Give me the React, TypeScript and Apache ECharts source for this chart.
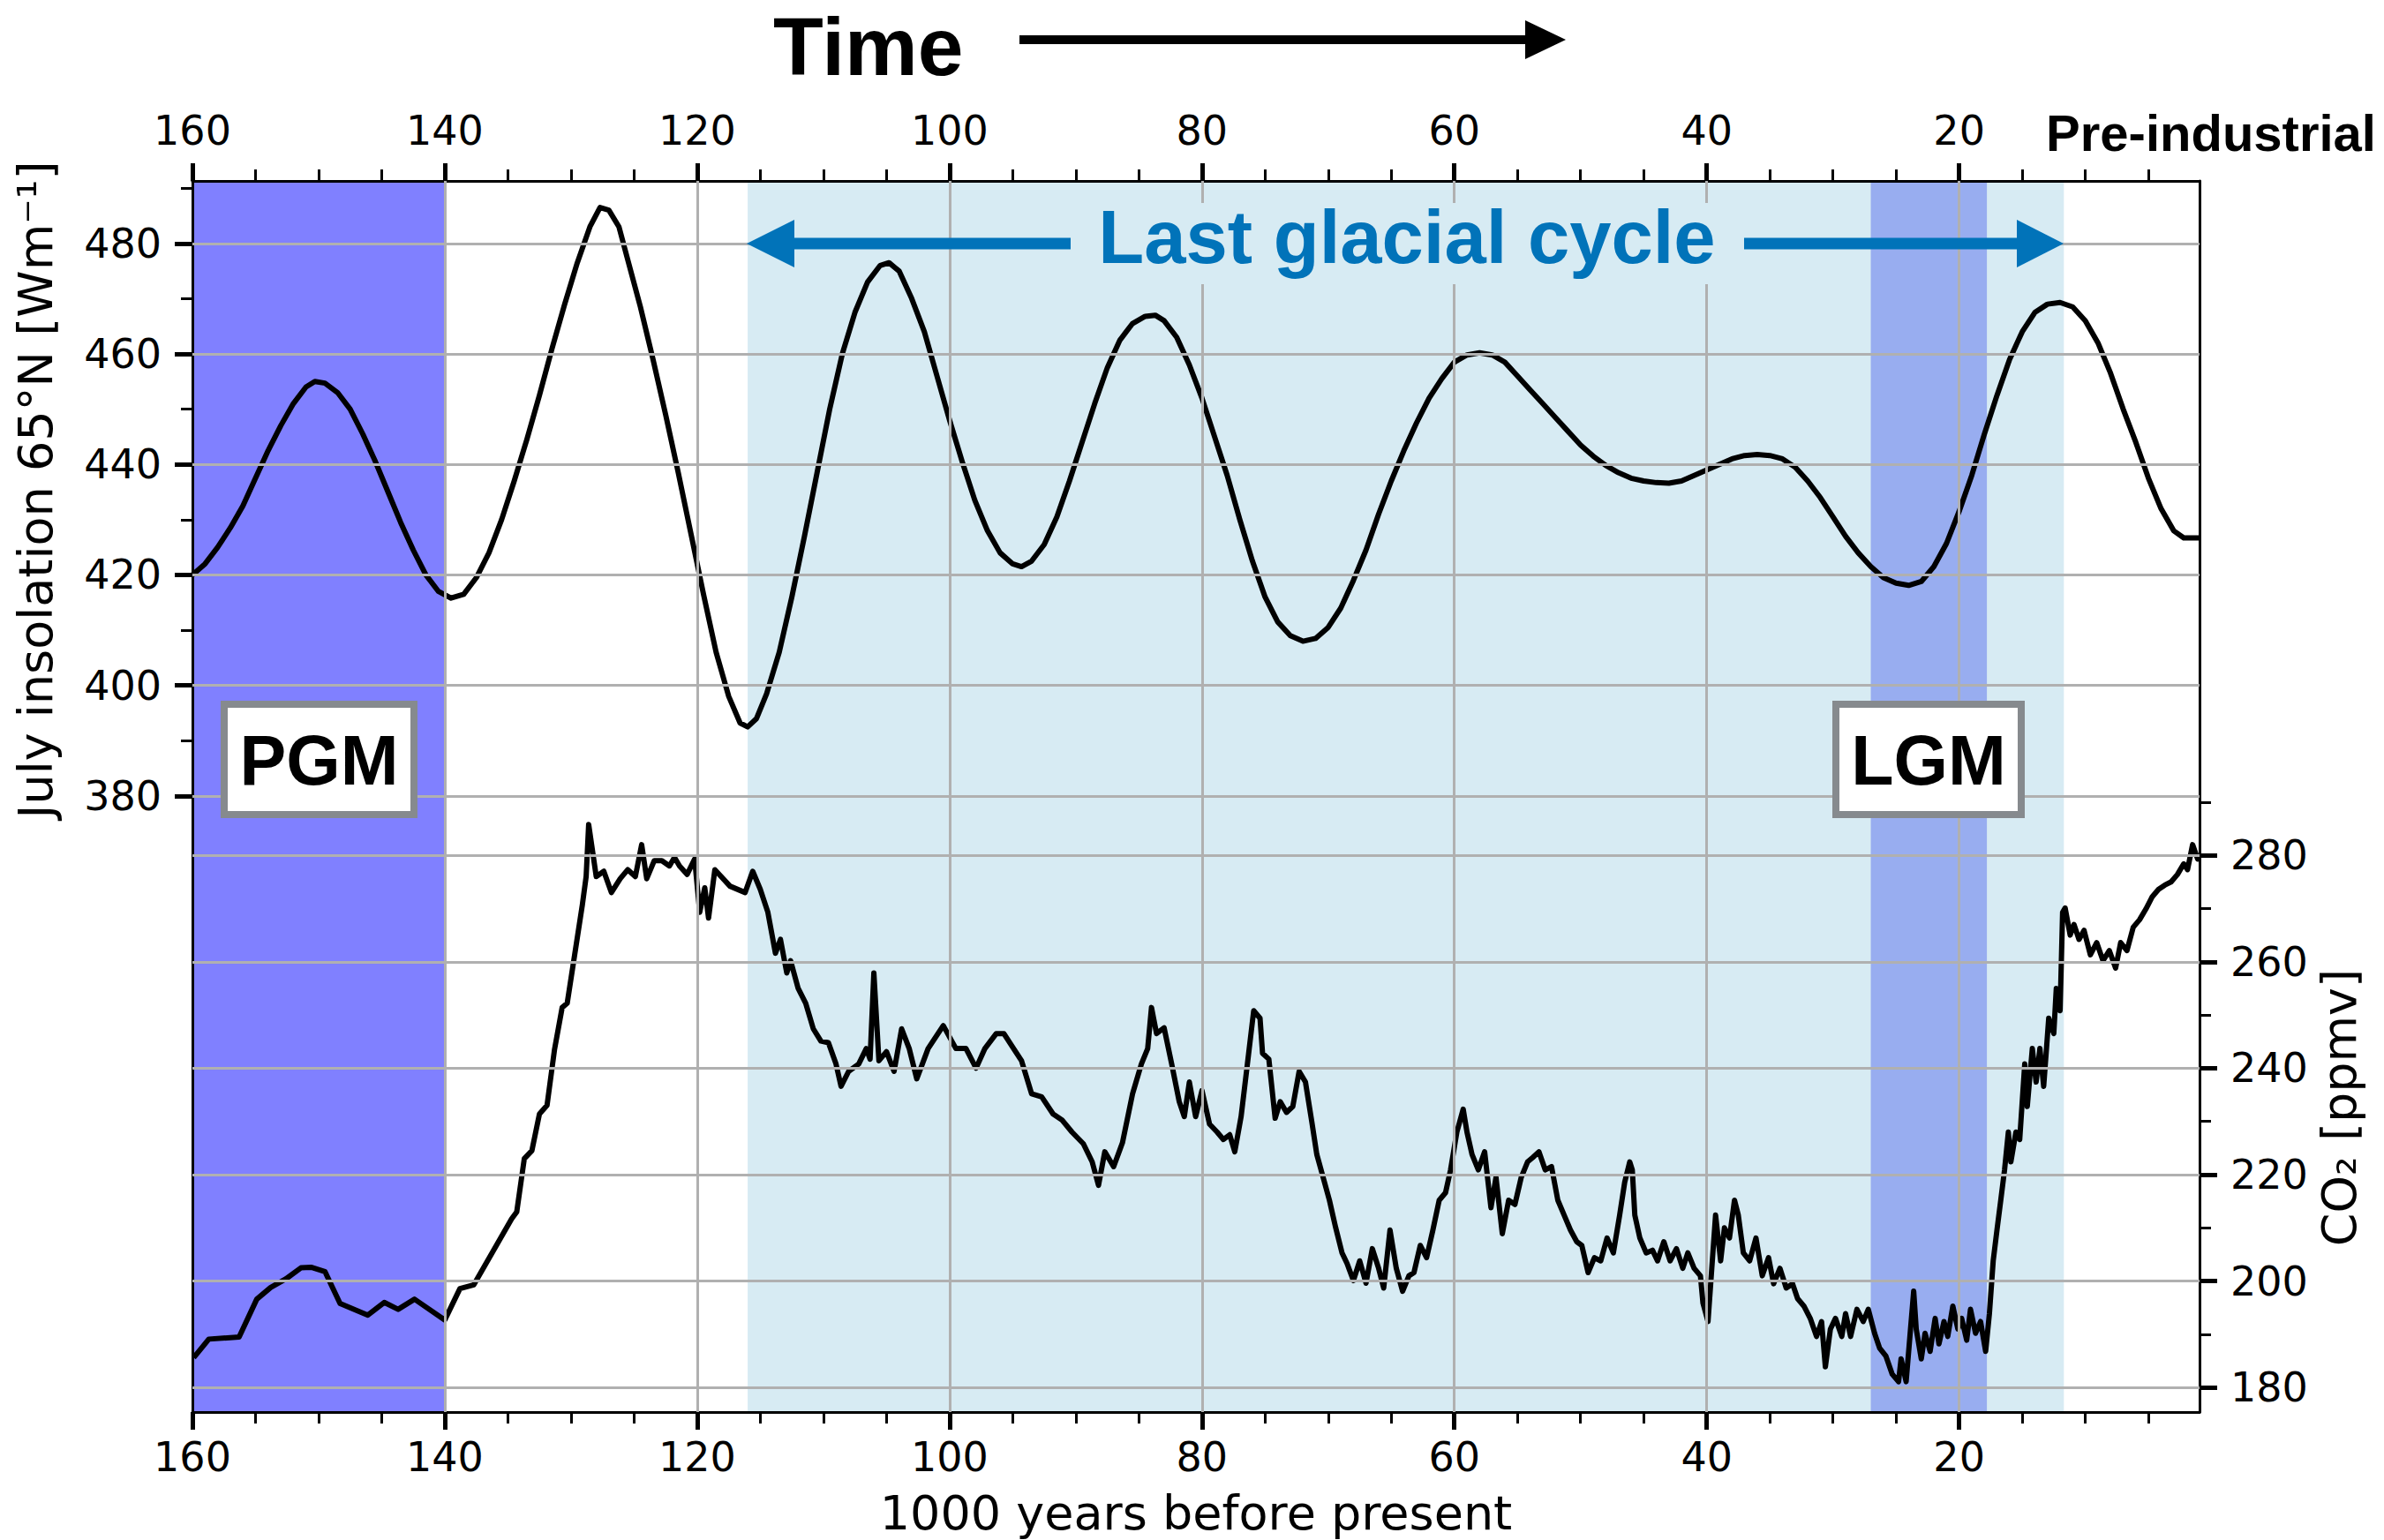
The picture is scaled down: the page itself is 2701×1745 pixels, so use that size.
import React, { useEffect, useRef } from "react";
import * as echarts from "echarts";

// ---------- data ----------
const insolKyr = [160, 159, 158, 157, 156, 155, 154, 153, 152, 151, 150.3, 149.5, 148.5, 147.5, 146.5, 145.5, 144.5, 143.5, 142.5, 141.5, 140.5, 139.5, 138.5, 137.5, 136.5, 135.5, 134.5, 133.5, 132.5, 131.5, 130.5, 129.5, 128.5, 127.7, 127, 126.2, 125.5, 124.5, 123.5, 122.5, 121.5, 120.5, 119.5, 118.5, 117.5, 116.6, 116, 115.3, 114.5, 113.5, 112.5, 111.5, 110.5, 109.5, 108.5, 107.5, 106.5, 105.5, 104.8, 104, 103, 102, 101, 100, 99, 98, 97, 96, 95, 94.3, 93.5, 92.5, 91.5, 90.5, 89.5, 88.5, 87.5, 86.5, 85.5, 84.5, 83.7, 83, 82, 81, 80, 79, 78, 77, 76, 75, 74, 73, 72, 71, 70, 69, 68, 67, 66, 65, 64, 63, 62, 61, 60, 59, 58, 57, 56, 55, 54, 53, 52, 51, 50, 49, 48, 47, 46, 45, 44, 43, 42, 41, 40, 39, 38, 37, 36, 35, 34, 33, 32, 31, 30, 29, 28, 27, 26, 25, 24, 23, 22, 21, 20, 19, 18, 17, 16, 15, 14, 13, 12, 11, 10, 9, 8, 7, 6, 5, 4, 3, 2.2, 0.95];
const insolWm2 = [420, 422, 425, 428.5, 432.5, 437.5, 442.5, 447, 451, 454, 455, 454.7, 453, 450, 445.5, 440.5, 435, 429.5, 424.5, 420, 417, 415.8, 416.5, 419.5, 424, 430, 437, 444.5, 452.5, 461, 469, 476.5, 483, 486.5, 486, 483, 477, 468.5, 459, 449, 438.5, 427.5, 416.5, 406, 398, 393.2, 392.5, 394, 398.5, 406, 416, 427, 438.5, 450, 460, 467.5, 473, 476, 476.5, 475, 470, 464, 456, 448, 440.5, 433.5, 428, 424, 422, 421.5, 422.5, 425.5, 430.5, 437, 444, 451, 457.5, 462.5, 465.5, 466.8, 467, 466, 463, 458, 452, 445, 438, 430, 422.5, 416, 411.5, 409, 408, 408.5, 410.5, 414, 419, 424.5, 431, 437, 442.5, 447.5, 452, 455.5, 458.5, 459.8, 460.2, 459.8, 458.5, 456, 453.5, 451, 448.5, 446, 443.5, 441.5, 439.8, 438.5, 437.5, 437, 436.7, 436.6, 437, 438, 439, 440, 441, 441.6, 441.8, 441.6, 441, 439.5, 437, 434, 430.5, 427, 424, 421.5, 419.5, 418.5, 418.1, 418.8, 421.5, 425.7, 431.5, 438, 445.5, 452.5, 459, 464, 467.5, 469, 469.3, 468.5, 466, 462, 456.5, 450, 444, 437.5, 432, 428, 426.7, 426.7];

const co2Kyr = [159.9, 158.7, 156.3, 154.9, 153.8, 152.6, 151.4, 150.6, 149.5, 148.3, 146.1, 144.8, 143.7, 142.4, 140.0, 138.8, 137.7, 134.7, 134.3, 133.7, 133.1, 132.5, 131.9, 131.3, 130.7, 130.3, 129.1, 128.8, 128.6, 128.0, 127.4, 126.8, 126.1, 125.5, 124.9, 124.4, 124.0, 123.4, 122.8, 122.2, 121.8, 121.4, 120.8, 120.2, 119.8, 119.4, 119.1, 118.6, 117.4, 116.2, 115.6, 115.0, 114.4, 113.8, 113.4, 112.9, 112.6, 112.0, 111.4, 110.8, 110.2, 109.6, 109.0, 108.6, 108.0, 107.2, 106.6, 106.3, 106.0, 105.6, 105.0, 104.4, 103.8, 103.2, 102.6, 101.7, 100.5, 99.5, 98.7, 97.9, 97.2, 96.3, 95.7, 95.1, 94.3, 93.5, 92.7, 91.8, 91.1, 90.3, 89.4, 88.7, 88.2, 87.7, 87.0, 86.3, 85.5, 84.8, 84.3, 84.0, 83.6, 83.0, 82.4, 81.8, 81.4, 81.0, 80.5, 80.0, 79.4, 78.8, 78.3, 77.8, 77.4, 76.9, 76.4, 75.9, 75.4, 75.2, 74.7, 74.2, 73.8, 73.3, 72.8, 72.3, 71.8, 71.3, 70.9, 70.4, 69.9, 69.4, 68.9, 68.5, 68.0, 67.5, 67.0, 66.5, 66.0, 65.6, 65.1, 64.6, 64.1, 63.6, 63.2, 62.7, 62.2, 61.7, 61.2, 60.7, 60.3, 59.8, 59.3, 59.0, 58.6, 58.1, 57.6, 57.1, 56.7, 56.2, 55.7, 55.2, 54.7, 54.2, 53.8, 53.3, 52.8, 52.3, 51.8, 51.3, 50.8, 50.3, 49.9, 49.4, 48.9, 48.4, 47.9, 47.4, 46.9, 46.5, 46.1, 45.9, 45.7, 45.3, 44.8, 44.3, 43.9, 43.4, 42.9, 42.4, 41.9, 41.5, 41.0, 40.5, 40.3, 39.9, 39.6, 39.3, 38.9, 38.6, 38.2, 37.8, 37.5, 37.1, 36.6, 36.1, 35.6, 35.1, 34.7, 34.2, 33.7, 33.2, 32.8, 32.3, 31.8, 31.3, 30.9, 30.6, 30.2, 29.8, 29.3, 29.0, 28.6, 28.1, 27.6, 27.2, 26.7, 26.3, 25.8, 25.3, 24.8, 24.6, 24.2, 23.9, 23.6, 23.4, 23.0, 22.7, 22.3, 21.9, 21.6, 21.2, 20.9, 20.5, 20.1, 19.8, 19.4, 19.1, 18.7, 18.3, 17.9, 17.6, 17.3, 17.0, 16.7, 16.4, 16.1, 15.9, 15.5, 15.2, 14.8, 14.6, 14.2, 13.9, 13.6, 13.3, 12.9, 12.5, 12.3, 12.0, 11.8, 11.6, 11.2, 10.9, 10.5, 10.1, 9.6, 9.1, 8.6, 8.1, 7.6, 7.2, 6.7, 6.2, 5.7, 5.2, 4.7, 4.2, 3.7, 3.2, 2.7, 2.2, 1.9, 1.5, 1.1, 0.95];
const co2Ppmv = [185.6, 189.1, 189.5, 196.6, 198.8, 200.4, 202.5, 202.6, 201.8, 195.8, 193.6, 196.0, 194.7, 196.6, 192.7, 198.6, 199.3, 211.7, 213, 223, 224.5, 231.4, 233, 243.6, 251.4, 252.2, 270.7, 276, 285.8, 276, 277, 273, 275.6, 277.3, 276, 282, 275.6, 279, 279, 278, 279.6, 278, 276.4, 279.3, 269.3, 273.9, 268.2, 277.3, 274.2, 273, 277, 273.6, 269.3, 261.6, 264.2, 257.9, 260.2, 255, 252.2, 247.4, 245.1, 244.8, 240.8, 236.6, 239.4, 240.8, 243.7, 241.7, 257.9, 241.4, 243.1, 239.4, 247.4, 243.7, 238, 243.7, 248, 243.7, 243.7, 240, 243.7, 246.5, 246.5, 244.3, 241.4, 235.2, 234.6, 231.4, 230.3, 228, 225.8, 222.4, 218, 224.3, 221.5, 226, 235.2, 240.8, 243.7, 251.4, 246.5, 247.6, 240.8, 233.7, 230.9, 237.4, 230.9, 235.8, 229.5, 228, 226.6, 227.5, 224.3, 230.9, 240.8, 250.8, 249.4, 242.8, 241.7, 230.6, 233.7, 231.7, 232.8, 239.4, 237.4, 230, 223.8, 219.5, 215.2, 210, 205.3, 203.3, 200.1, 203.8, 199.6, 206.1, 202.4, 198.7, 209.6, 202.4, 198.1, 201, 201.6, 206.7, 204.4, 209.6, 215.2, 216.6, 220.9, 228, 232.3, 228, 223.8, 220.9, 224.3, 213.8, 219.5, 208.9, 215.2, 214.4, 219.5, 222.4, 223.2, 224.3, 220.9, 221.5, 215.2, 212.4, 209.6, 207.4, 206.7, 201.6, 204.4, 203.8, 208.1, 205.3, 212.4, 218.6, 222.4, 220.9, 212.4, 208.1, 205.3, 205.8, 203.8, 207.4, 203.8, 206.1, 202.4, 205.3, 202.4, 201, 195.9, 192.4, 202.4, 212.4, 203.8, 210, 208.1, 215.2, 212.4, 205.3, 203.8, 208.1, 201, 204.4, 199.5, 202.4, 198.7, 199.5, 196.7, 195.3, 193, 189.6, 192.4, 183.9, 191, 193, 189.6, 193.9, 189.6, 194.7, 192.4, 194.7, 190.2, 187.4, 185.9, 182.5, 181.1, 185.4, 181.1, 189.6, 198.1, 191, 185.4, 190.2, 186.8, 193, 188.2, 192.4, 189.6, 195.3, 191, 193, 188.9, 194.7, 190.2, 192.4, 186.8, 193.9, 203.8, 209.6, 215.2, 220.9, 228, 222.4, 228, 226.6, 240.8, 232.8, 243.7, 237.4, 243.7, 236.6, 249.4, 246.5, 255, 250.8, 269.3, 270.1, 265, 267, 264.2, 265.9, 261.3, 263.6, 260.2, 262.1, 258.8, 263.6, 262.1, 266.5, 267.9, 269.9, 272.2, 273.6, 274.4, 275, 276.4, 278.4, 277.3, 282, 279.3, 279.9];

// tick values / labels
const xMajorTicks = [160, 140, 120, 100, 80, 60, 40, 20];
const xMinorTicks = [155, 150, 145, 135, 130, 125, 115, 110, 105, 95, 90, 85, 75, 70, 65, 55, 50, 45, 35, 30, 25, 15, 10, 5];
const insolMajorTicks = [380, 400, 420, 440, 460, 480];
const insolMinorTicks = [390, 410, 430, 450, 470, 490];
const co2MajorTicks = [180, 200, 220, 240, 260, 280];
const co2MinorTicks = [190, 210, 230, 250, 270, 290];

// shaded periods [from, to] in kyr BP
const pgmPeriod = [160, 140];
const glacialPeriod = [116, 11.7];
const lgmPeriod = [27, 17.8];

const X_MIN = 0.95;
const X_MAX = 160;
const INSOL_MIN = 268.5;
const INSOL_MAX = 491.3;
const CO2_MIN = 175.4;
const CO2_MAX = 406.7;

const TICK_FONT = '"DejaVu Sans"';
const BOLD_FONT = '"Liberation Sans", Arial, sans-serif';

export default function App() {
  const ref = useRef<HTMLDivElement>(null);

  useEffect(() => {
    if (!ref.current) return;
    const chart = echarts.init(ref.current, null, { renderer: "svg" });

    const insolData = insolKyr.map((k, i) => [k, insolWm2[i]]);
    const co2Data = co2Kyr.map((k, i) => [k, co2Ppmv[i]]);

    const labelStyle = { fontSize: 46, fontFamily: TICK_FONT, color: "#000" };

    const xBase = {
      type: "value",
      min: X_MIN,
      max: X_MAX,
      inverse: true,
      splitLine: { show: false },
      z: 4,
    };
    const yBaseLeft = {
      type: "value",
      min: INSOL_MIN,
      max: INSOL_MAX,
      position: "left",
      splitLine: { show: false },
      z: 4,
    };
    const yBaseRight = {
      type: "value",
      min: CO2_MIN,
      max: CO2_MAX,
      position: "right",
      splitLine: { show: false },
      z: 4,
    };
    const spine = { show: true, onZero: false, lineStyle: { color: "#000", width: 3 } };
    const majorTick = (vals: number[]) => ({
      show: true,
      inside: false,
      length: 20,
      customValues: vals,
      lineStyle: { color: "#000", width: 5 },
    });
    const minorTick = (vals: number[]) => ({
      show: true,
      inside: false,
      length: 13,
      customValues: vals,
      lineStyle: { color: "#000", width: 3 },
    });

    const gridLineStyle = { color: "#b0b0b0", width: 3, type: "solid" };

    const option: any = {
      animation: false,
      backgroundColor: "#fff",
      grid: { left: 218, top: 205, width: 2274, height: 1395, containLabel: false },
      xAxis: [
        {
          ...xBase,
          position: "bottom",
          axisLine: spine,
          axisTick: majorTick(xMajorTicks),
          axisLabel: { ...labelStyle, customValues: xMajorTicks, margin: 28 },
        },
        {
          ...xBase,
          position: "bottom",
          axisLine: { show: false, onZero: false },
          axisTick: minorTick(xMinorTicks),
          axisLabel: { show: false },
        },
        {
          ...xBase,
          position: "top",
          axisLine: spine,
          axisTick: majorTick(xMajorTicks),
          axisLabel: { ...labelStyle, customValues: xMajorTicks, margin: 34 },
        },
        {
          ...xBase,
          position: "top",
          axisLine: { show: false, onZero: false },
          axisTick: minorTick(xMinorTicks),
          axisLabel: { show: false },
        },
      ],
      yAxis: [
        {
          ...yBaseLeft,
          axisLine: spine,
          axisTick: majorTick(insolMajorTicks),
          axisLabel: { ...labelStyle, customValues: insolMajorTicks, margin: 35 },
        },
        {
          ...yBaseRight,
          axisLine: spine,
          axisTick: majorTick(co2MajorTicks),
          axisLabel: { ...labelStyle, customValues: co2MajorTicks, margin: 35 },
        },
        {
          ...yBaseLeft,
          axisLine: { show: false, onZero: false },
          axisTick: minorTick(insolMinorTicks),
          axisLabel: { show: false },
        },
        {
          ...yBaseRight,
          axisLine: { show: false, onZero: false },
          axisTick: minorTick(co2MinorTicks),
          axisLabel: { show: false },
        },
      ],
      series: [
        {
          name: "glacial",
          type: "line",
          xAxisIndex: 0,
          yAxisIndex: 0,
          data: [],
          z: 1,
          silent: true,
          markArea: {
            silent: true,
            itemStyle: { color: "#d7ebf3" },
            data: [[{ xAxis: glacialPeriod[0] }, { xAxis: glacialPeriod[1] }]],
          },
        },
        {
          name: "periods",
          type: "line",
          xAxisIndex: 0,
          yAxisIndex: 0,
          data: [],
          z: 1,
          silent: true,
          markArea: {
            silent: true,
            data: [
              [{ xAxis: pgmPeriod[0], itemStyle: { color: "#8080ff" } }, { xAxis: pgmPeriod[1] }],
              [{ xAxis: lgmPeriod[0], itemStyle: { color: "#98adf0" } }, { xAxis: lgmPeriod[1] }],
            ],
          },
        },
        {
          name: "gridLeft",
          type: "line",
          xAxisIndex: 0,
          yAxisIndex: 0,
          data: [],
          z: 2,
          silent: true,
          markLine: {
            silent: true,
            symbol: ["none", "none"],
            label: { show: false },
            lineStyle: gridLineStyle,
            data: [
              ...xMajorTicks.filter((v) => v !== 160).map((v) => ({ xAxis: v })),
              ...insolMajorTicks.map((v) => ({ yAxis: v })),
            ],
          },
        },
        {
          name: "gridRight",
          type: "line",
          xAxisIndex: 0,
          yAxisIndex: 1,
          data: [],
          z: 2,
          silent: true,
          markLine: {
            silent: true,
            symbol: ["none", "none"],
            label: { show: false },
            lineStyle: gridLineStyle,
            data: co2MajorTicks.map((v) => ({ yAxis: v })),
          },
        },
        {
          name: "July insolation 65N",
          type: "line",
          xAxisIndex: 0,
          yAxisIndex: 0,
          data: insolData,
          showSymbol: false,
          symbol: "none",
          lineStyle: { color: "#000", width: 6, join: "round" },
          z: 3,
          silent: true,
        },
        {
          name: "CO2",
          type: "line",
          xAxisIndex: 0,
          yAxisIndex: 1,
          data: co2Data,
          showSymbol: false,
          symbol: "none",
          lineStyle: { color: "#000", width: 6, join: "round" },
          z: 3,
          silent: true,
        },
      ],
      graphic: [
        // Time arrow title
        {
          type: "text",
          x: 876,
          y: 53,
          z: 20,
          style: { text: "Time", font: `bold 93px ${BOLD_FONT}`, fill: "#000", align: "left", verticalAlign: "middle", textAlign: "left", textVerticalAlign: "middle" },
        },
        { type: "line", z: 20, shape: { x1: 1155, y1: 45, x2: 1732, y2: 45 }, style: { stroke: "#000", lineWidth: 10 } },
        { type: "polygon", z: 20, shape: { points: [[1728, 23], [1774, 45], [1728, 67]] }, style: { fill: "#000" } },
        // Pre-industrial
        {
          type: "text",
          x: 2505,
          y: 150,
          z: 20,
          style: { text: "Pre-industrial", font: `bold 58px ${BOLD_FONT}`, fill: "#000", align: "center", verticalAlign: "middle", textAlign: "center", textVerticalAlign: "middle" },
        },
        // axis titles
        {
          type: "text",
          x: 40,
          y: 555,
          rotation: Math.PI / 2,
          z: 20,
          style: { text: "July insolation 65°N [Wm⁻¹]", font: `54px ${TICK_FONT}`, fill: "#000", align: "center", verticalAlign: "middle", textAlign: "center", textVerticalAlign: "middle" },
        },
        {
          type: "text",
          x: 2650,
          y: 1255,
          rotation: Math.PI / 2,
          z: 20,
          style: { text: "CO₂ [ppmv]", font: `54px ${TICK_FONT}`, fill: "#000", align: "center", verticalAlign: "middle", textAlign: "center", textVerticalAlign: "middle" },
        },
        {
          type: "text",
          x: 1355,
          y: 1714,
          z: 20,
          style: { text: "1000 years before present", font: `54px ${TICK_FONT}`, fill: "#000", align: "center", verticalAlign: "middle", textAlign: "center", textVerticalAlign: "middle" },
        },
        // Last glacial cycle
        { type: "rect", z: 20, shape: { x: 1213, y: 230, width: 763, height: 92 }, style: { fill: "#d7ebf3" } },
        {
          type: "text",
          x: 1594,
          y: 268,
          z: 21,
          style: { text: "Last glacial cycle", font: `bold 85px ${BOLD_FONT}`, fill: "#0173b9", align: "center", verticalAlign: "middle", textAlign: "center", textVerticalAlign: "middle" },
        },
        { type: "line", z: 21, shape: { x1: 896, y1: 276, x2: 1213, y2: 276 }, style: { stroke: "#0173b9", lineWidth: 13 } },
        { type: "polygon", z: 21, shape: { points: [[846, 276], [900, 249], [900, 303]] }, style: { fill: "#0173b9" } },
        { type: "line", z: 21, shape: { x1: 1976, y1: 276, x2: 2289, y2: 276 }, style: { stroke: "#0173b9", lineWidth: 13 } },
        { type: "polygon", z: 21, shape: { points: [[2338, 276], [2285, 249], [2285, 303]] }, style: { fill: "#0173b9" } },
        // PGM / LGM boxes
        { type: "rect", z: 20, shape: { x: 254, y: 798, width: 215, height: 125 }, style: { fill: "#fff", stroke: "#868a8e", lineWidth: 8 } },
        {
          type: "text",
          x: 361.5,
          y: 861,
          z: 21,
          style: { text: "PGM", font: `bold 79px ${BOLD_FONT}`, fill: "#000", align: "center", verticalAlign: "middle", textAlign: "center", textVerticalAlign: "middle" },
        },
        { type: "rect", z: 20, shape: { x: 2080, y: 798, width: 210, height: 125 }, style: { fill: "#fff", stroke: "#868a8e", lineWidth: 8 } },
        {
          type: "text",
          x: 2185,
          y: 861,
          z: 21,
          style: { text: "LGM", font: `bold 79px ${BOLD_FONT}`, fill: "#000", align: "center", verticalAlign: "middle", textAlign: "center", textVerticalAlign: "middle" },
        },
      ],
    };

    chart.setOption(option);
    return () => chart.dispose();
  }, []);

  return (
    <div
      ref={ref}
      style={{ position: "fixed", left: 0, top: 0, width: 2701, height: 1745, background: "#fff" }}
    />
  );
}
